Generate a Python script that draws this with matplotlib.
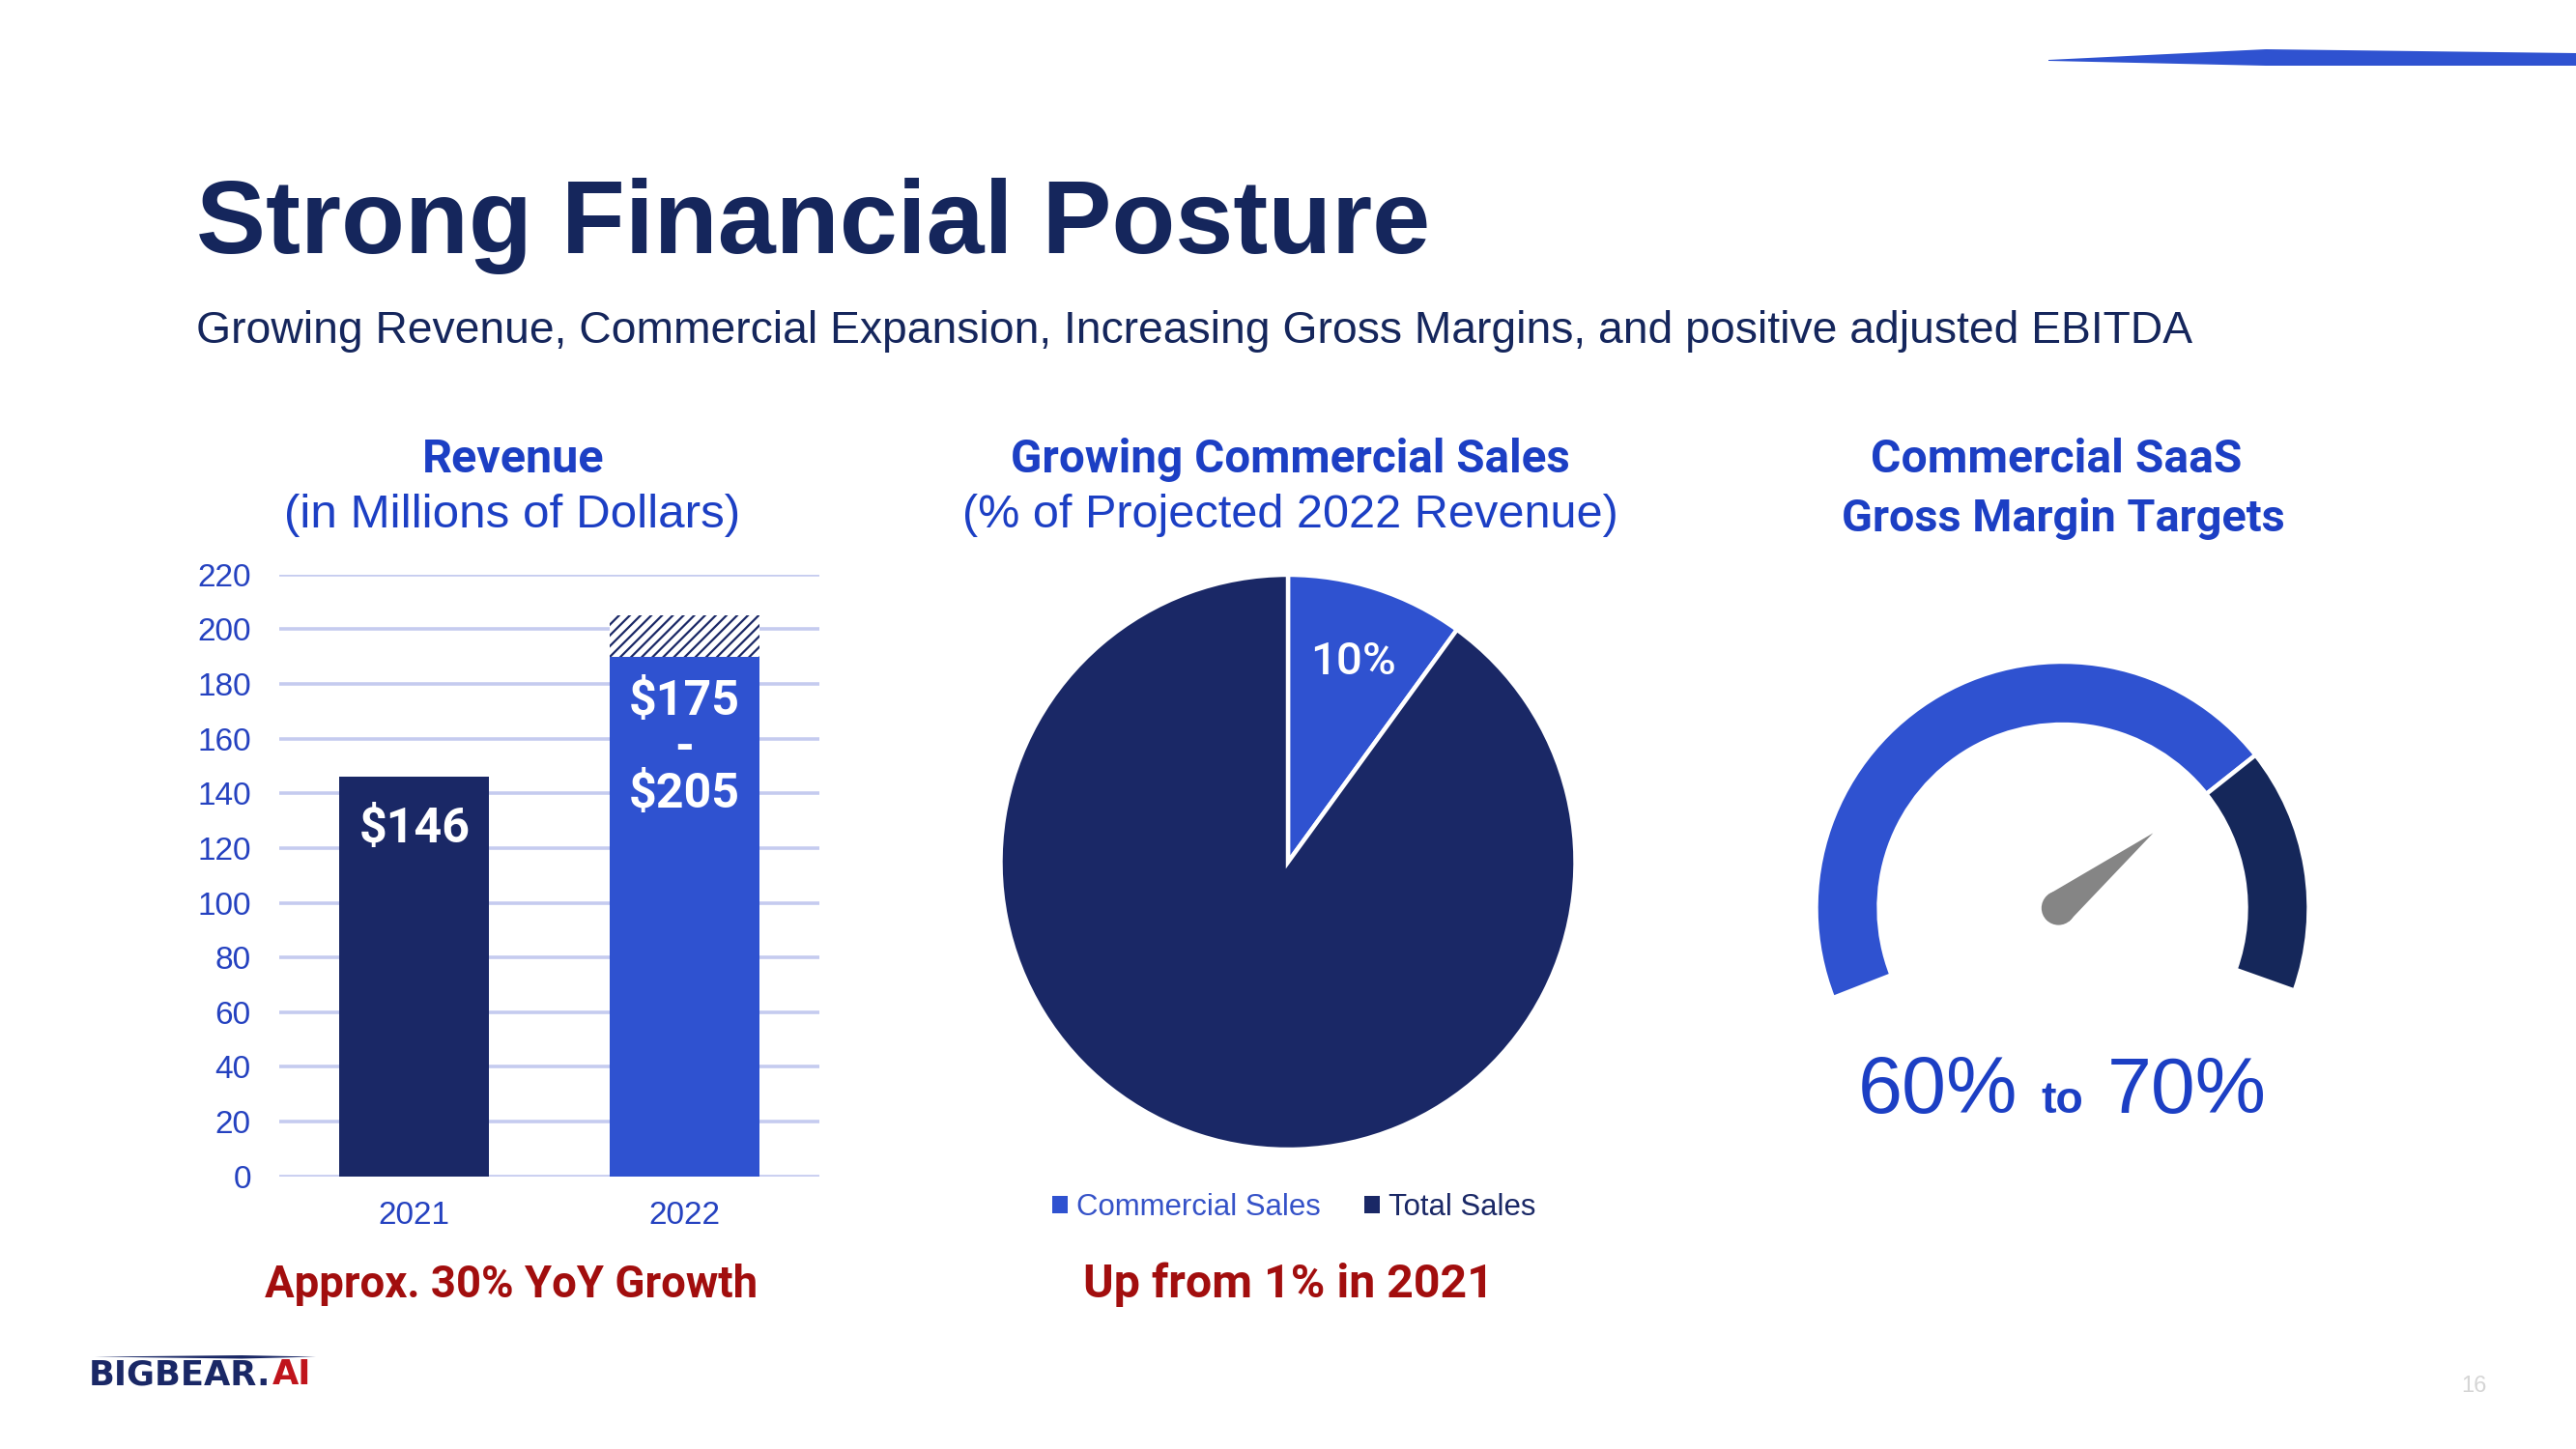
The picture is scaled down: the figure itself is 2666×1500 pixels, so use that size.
import numpy as np
import matplotlib
matplotlib.use("Agg")
import matplotlib.pyplot as plt
from matplotlib.patches import Polygon, Circle

# ---- data ----
years = ['2021', '2022']
revenue_base = [146, 190]      # solid part of the bar
revenue_top = [146, 205]       # top of the hatched range
revenue_labels = [['$146'], ['$175', '-', '$205']]
y_ticks = list(range(0, 221, 20))

pie_labels = ['Commercial Sales', 'Total Sales']
pie_values = [10, 90]

gauge_start = 201.4            # degrees, left end of the gauge arc
gauge_segments = [163, 58]     # blue arc, navy arc (degrees)
margin_low = '60%'
margin_high = '70%'

# ---- colours / fonts ----
NAVY = '#1a2866'
NAVY_DARK = '#15275a'
BLUE = '#2f52d0'
TXT_BLUE = '#1c3fc4'
TICK_BLUE = '#2542c0'
TITLE_NAVY = '#15265c'
RED = '#a20e0e'
GRID = '#c5cbef'

REG = ['Liberation Sans', 'DejaVu Sans']
HEAD = ['Roboto', 'DejaVu Sans']

W, H = 2666, 1500
def fx(p):
    return p / W
def fy(p):
    return 1 - p / H

fig = plt.figure(figsize=(13.33, 7.5), dpi=200)
fig.patch.set_facecolor('white')
renderer = fig.canvas.get_renderer()

def fit(t, width_px):
    # scale the font so the text spans the width measured on the slide
    for _ in range(2):
        bb = t.get_window_extent(renderer)
        t.set_fontsize(t.get_fontsize() * width_px / bb.width)
    return t

# ---- header ----
t = fig.text(fx(203), fy(262), 'Strong Financial Posture', family=REG, weight='bold',
             fontsize=39, color=TITLE_NAVY, ha='left', va='baseline')
fit(t, 1278)
t = fig.text(fx(203), fy(355), 'Growing Revenue, Commercial Expansion, Increasing Gross Margins, '
             'and positive adjusted EBITDA', family=REG, fontsize=16.5, color=TITLE_NAVY,
             ha='left', va='baseline')
fit(t, 2067)

# top-right accent stripe
fig.add_artist(Polygon([[fx(2120), fy(62)], [fx(2345), fy(51)], [fx(2666), fy(55)],
                        [fx(2666), fy(68)], [fx(2345), fy(68)], [fx(2120), fy(63)]],
                       closed=True, transform=fig.transFigure, color=BLUE, lw=0))

# section headings
heads = [(531, 489, 'Revenue', True, 188),
         (530, 546, '(in Millions of Dollars)', False, 471),
         (1335, 489, 'Growing Commercial Sales', True, 580),
         (1335, 546, '(% of Projected 2022 Revenue)', False, 677),
         (2128, 489, 'Commercial SaaS', True, 384),
         (2135, 550, 'Gross Margin Targets', True, 459)]
for hx, hy, s, bold, wpx in heads:
    t = fig.text(fx(hx), fy(hy), s, family=HEAD if bold else REG,
                 weight='bold' if bold else 'normal', fontsize=18, color=TXT_BLUE,
                 ha='center', va='baseline')
    fit(t, wpx)

# ---- revenue bars ----
ax = fig.add_axes([fx(289), fy(1217.7), (848 - 289) / W, (1217.7 - 594.7) / H])
x = np.arange(len(years))
ax.bar(x, revenue_base, width=0.555, color=[NAVY, BLUE], zorder=2)
plt.rcParams['hatch.linewidth'] = 0.8
ax.bar(x, np.array(revenue_top) - np.array(revenue_base), bottom=revenue_base, width=0.555,
       facecolor='white', edgecolor=NAVY, hatch='//////', linewidth=0, zorder=2)
ax.set_xlim(-0.5, 1.5)
ax.set_ylim(0, 220)
ax.set_yticks(y_ticks)
ax.set_xticks(x, years)
ax.grid(axis='y', color=GRID, lw=1.3, zorder=0)
ax.set_axisbelow(True)
for s in ax.spines.values():
    s.set_visible(False)
ax.tick_params(axis='y', length=0, pad=10.5, labelcolor=TICK_BLUE, labelsize=12)
ax.tick_params(axis='x', length=0, pad=9, labelcolor=TICK_BLUE, labelsize=12)
for lab in ax.get_xticklabels() + ax.get_yticklabels():
    lab.set_family(REG)
label_gap = [19, 16.5]
for xi, top, labs, gap in zip(x, revenue_base, revenue_labels, label_gap):
    for k, s in enumerate(labs):
        t = ax.text(xi, top - gap - 17 * k, s, family=HEAD, weight='bold', fontsize=18.5,
                    color='white', ha='center', va='center', zorder=3)
        if s != '-':
            fit(t, 115)

t = fig.text(fx(529), fy(1342.7), 'Approx. 30% YoY Growth', family=HEAD, weight='bold',
             fontsize=18.6, color=RED, ha='center', va='baseline')
fit(t, 510)

# ---- commercial sales pie ----
r_pie = 297.5
axp = fig.add_axes([fx(1333 - r_pie), fy(892.5 + r_pie), 2 * r_pie / W, 2 * r_pie / H])
wedges, _, autot = axp.pie(pie_values, colors=[BLUE, NAVY], startangle=90, counterclock=False,
                           wedgeprops=dict(edgecolor='white', linewidth=1.6),
                           autopct=lambda p: f'{p:.0f}%' if p < 50 else '', pctdistance=0.735,
                           textprops=dict(color='white', fontsize=18.5, family=HEAD,
                                          weight='medium'))
fit(autot[0], 89)
axp.set_aspect('auto')
axp.set_xlim(-1, 1)
axp.set_ylim(-1, 1)
leg = axp.legend(wedges, pie_labels, loc='center', bbox_to_anchor=(fx(1339.5), fy(1250)),
                 bbox_transform=fig.transFigure, ncol=2, frameon=False,
                 prop=dict(family='Liberation Sans', size=11.2), handlelength=0.5,
                 handleheight=0.5, handletextpad=0.3, columnspacing=1.45,
                 labelcolor=['#3552c8', NAVY])
for h in leg.legend_handles:
    h.set_edgecolor('none')

t = fig.text(fx(1333), fy(1343), 'Up from 1% in 2021', family=HEAD, weight='bold',
             fontsize=18.6, color=RED, ha='center', va='baseline')
fit(t, 425)

# ---- gross margin gauge ----
r_g = 255
gcx, gcy = 2134.5, 940
axg = fig.add_axes([fx(gcx - r_g), fy(gcy + r_g), 2 * r_g / W, 2 * r_g / H])
hidden = 360 - sum(gauge_segments)
gw, _ = axg.pie(gauge_segments + [hidden], colors=[BLUE, NAVY_DARK, 'white'],
                startangle=gauge_start, counterclock=False,
                wedgeprops=dict(width=0.255, edgecolor='white', linewidth=1.6))
gw[-1].set_visible(False)
axg.set_aspect('auto')
axg.set_xlim(-1, 1)
axg.set_ylim(-1, 1)

# needle points at the boundary between the two arcs
ang = np.deg2rad(gauge_start - gauge_segments[0])
r_hub, r_tip = 0.069, 0.49
d = np.array([np.cos(ang), np.sin(ang)])
nrm = np.array([-d[1], d[0]])
pivot = np.array([-0.016, 0.0])
axg.add_patch(Polygon([pivot + nrm * r_hub, pivot + d * r_tip, pivot - nrm * r_hub],
                      closed=True, color='#858585', lw=0, zorder=4))
axg.add_patch(Circle(pivot, r_hub, color='#858585', lw=0, zorder=4))

t = fig.text(fx(2088), fy(1152), margin_low, family=REG, fontsize=30, color=TXT_BLUE,
             ha='right', va='baseline')
fit(t, 165)
t = fig.text(fx(2134), fy(1152), 'to', family=REG, weight='bold', fontsize=17, color=TXT_BLUE,
             ha='center', va='baseline')
fit(t, 44)
t = fig.text(fx(2181), fy(1152), margin_high, family=REG, fontsize=30, color=TXT_BLUE,
             ha='left', va='baseline')
fit(t, 165)

# ---- footer ----
fig.add_artist(Polygon([[fx(98), fy(1404.5)], [fx(250), fy(1403)], [fx(327), fy(1404.5)],
                        [fx(250), fy(1406.5)]], closed=True, transform=fig.transFigure,
                       color=NAVY, lw=0))
logo = fig.text(fx(92), fy(1433), 'BIGBEAR.', family=['DejaVu Sans'], weight='bold',
                fontsize=11, color=NAVY, ha='left', va='baseline')
fit(logo, 188)
ann = plt.annotate('AI', xy=(1, 0), xycoords=logo, xytext=(0.5, 0), textcoords='offset points',
                   family=['DejaVu Sans'], weight='bold', fontsize=logo.get_fontsize(),
                   color='#c0141c', ha='left', va='bottom', annotation_clip=False)
fig.text(fx(2560), fy(1441), '16', family=REG, fontsize=8.5, color='#d5d5d5',
         ha='center', va='baseline')

fig.savefig('out.png', dpi=200, facecolor='white')
